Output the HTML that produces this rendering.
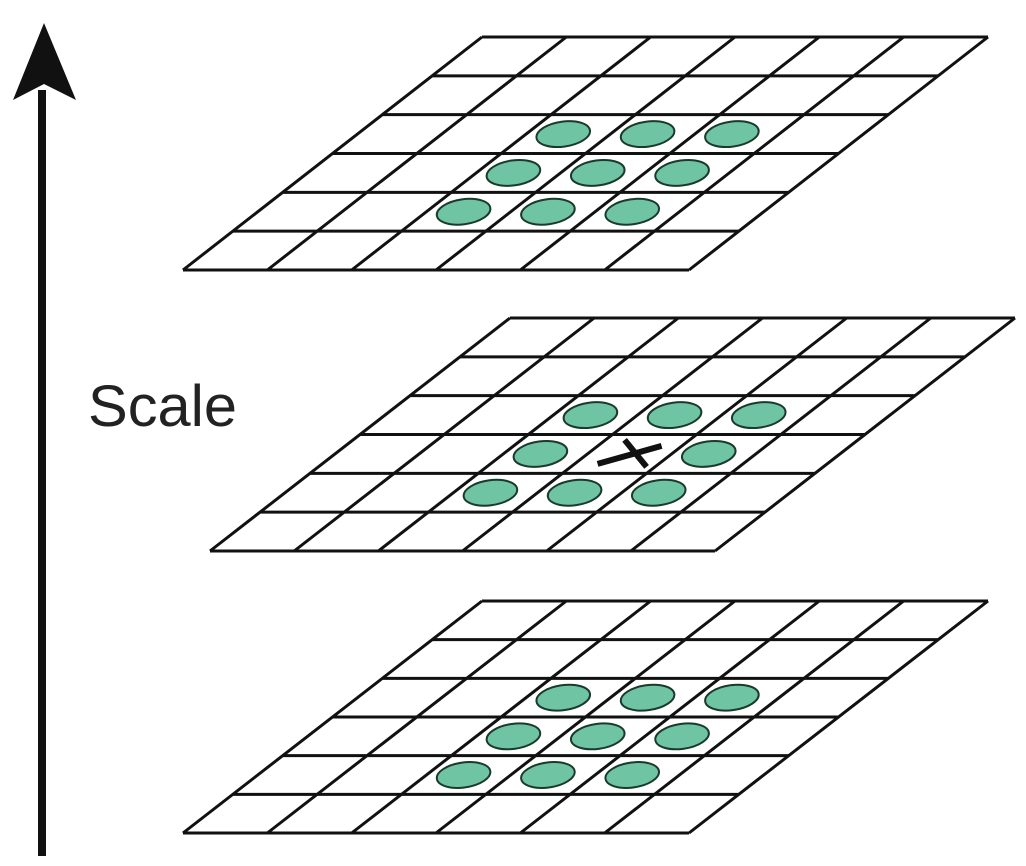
<!DOCTYPE html>
<html><head><meta charset="utf-8"><style>
html,body{margin:0;padding:0;background:#fff;width:1026px;height:866px;overflow:hidden}
svg{display:block}
</style></head><body>
<svg id="s" width="1026" height="866" viewBox="0 0 1026 866" xmlns="http://www.w3.org/2000/svg">
<line x1="42" y1="856" x2="42" y2="90" stroke="#111" stroke-width="8"/>
<polygon points="44,23 13,100 44,84 76,100" fill="#111"/>
<text x="88" y="426" font-family="Liberation Sans, sans-serif" font-size="58" fill="#222" textLength="149" lengthAdjust="spacingAndGlyphs">Scale</text>
<g id="g"></g>
</svg>
<script>
var g=document.getElementById('g'),h='';
function grid(tl,tr,ty,bl,by,cross){
  for(var i=0;i<=6;i++){var t=i/6,y=ty+(by-ty)*t,xl=tl+(bl-tl)*t,xr=tr+(bl-tl)*t;
    h+='<line x1="'+xl+'" y1="'+y+'" x2="'+xr+'" y2="'+y+'" stroke="#111" stroke-width="3"/>';}
  var w=(tr-tl)/6;
  for(var j=0;j<=6;j++){h+='<line x1="'+(tl+w*j)+'" y1="'+ty+'" x2="'+(bl+w*j)+'" y2="'+by+'" stroke="#111" stroke-width="3"/>';}
  for(var r=2;r<=4;r++)for(var c=2;c<=4;c++){
    var t=(r+0.5)/6,cy=ty+(by-ty)*t,cx=tl+(bl-tl)*t+w*(c+0.5)-5;
    if(cross&&r==3&&c==3){
      h+='<line x1="'+(cx-27)+'" y1="'+(cy+10)+'" x2="'+(cx+37)+'" y2="'+(cy-8)+'" stroke="#111" stroke-width="6"/>';
      h+='<line x1="'+(cx)+'" y1="'+(cy-14)+'" x2="'+(cx+22)+'" y2="'+(cy+13)+'" stroke="#111" stroke-width="6"/>';
    } else
    h+='<ellipse cx="'+cx+'" cy="'+cy+'" rx="27" ry="12.5" transform="rotate(-8 '+cx+' '+cy+')" fill="#6fc4a4" stroke="#1a3a2c" stroke-width="2"/>';
  }
}
grid(482,988,37,183,270,false);
grid(510,1015,318,210,551,true);
grid(482,988,601,183,833,false);
g.innerHTML=h;
</script>
</body></html>
